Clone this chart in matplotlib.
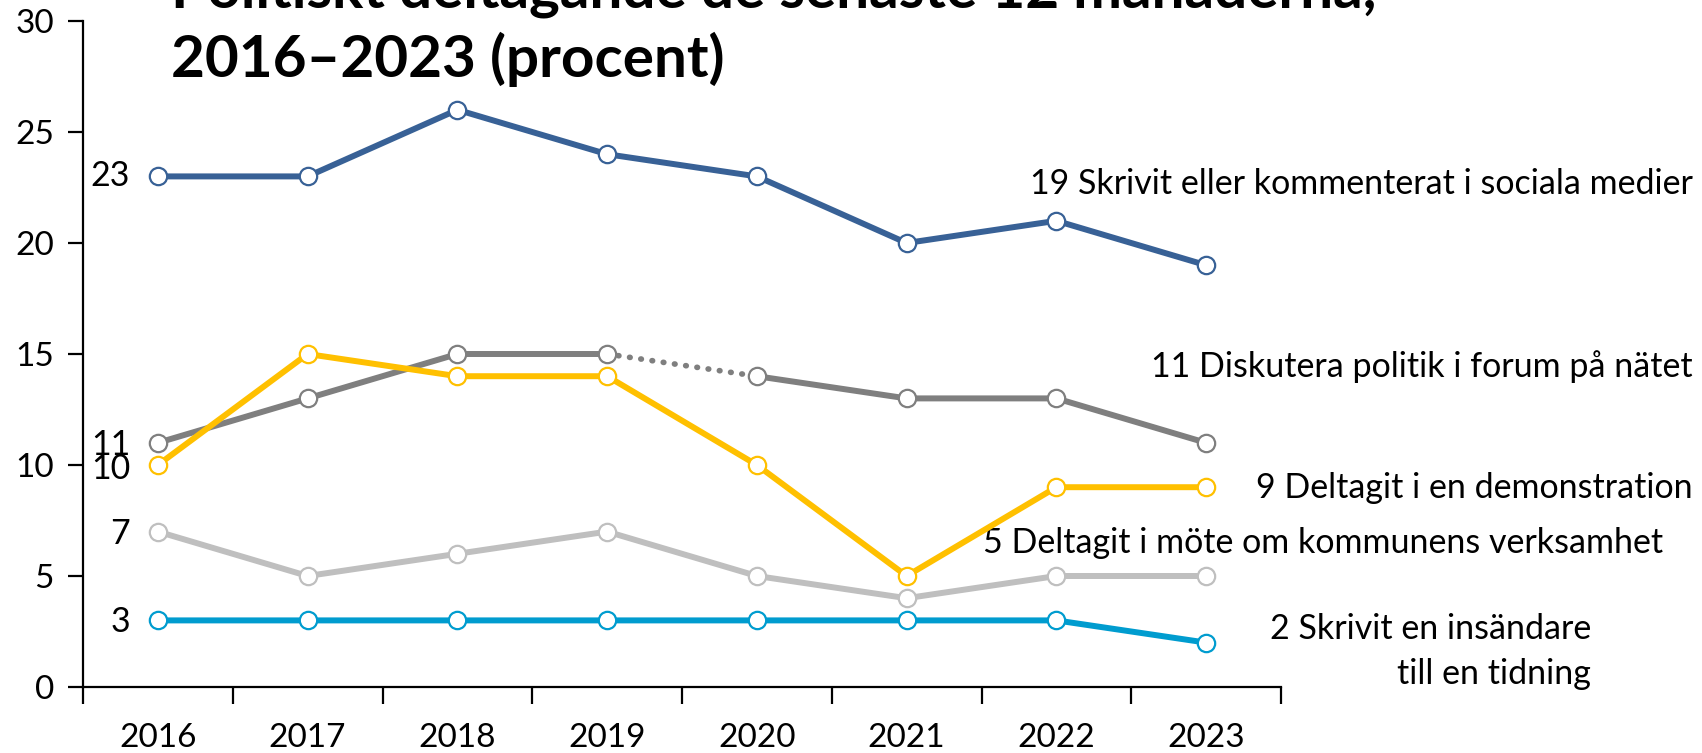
import matplotlib
matplotlib.use("Agg")
import matplotlib.pyplot as plt
import matplotlib.transforms as mtransforms
from matplotlib.ticker import FixedLocator, NullFormatter

plt.rcParams['font.family'] = ['Lato', 'DejaVu Sans']

years = ['2016', '2017', '2018', '2019', '2020', '2021', '2022', '2023']
sociala_medier = [23, 23, 26, 24, 23, 20, 21, 19]
forum_natet = [11, 13, 15, 15, 14, 13, 13, 11]
demonstration = [10, 15, 14, 14, 10, 5, 9, 9]
mote_kommun = [7, 5, 6, 7, 5, 4, 5, 5]
insandare = [3, 3, 3, 3, 3, 3, 3, 2]

label_sociala = '19 Skrivit eller kommenterat i sociala medier'
label_forum = '11 Diskutera politik i forum på nätet'
label_demo = '9 Deltagit i en demonstration'
label_mote = '5 Deltagit i möte om kommunens verksamhet'
label_ins = '2 Skrivit en insändare\ntill en tidning'
title_line1 = 'Politiskt deltagande de senaste 12 månaderna,'
title_line2 = '2016–2023 (procent)'

W, H = 1702, 753
fig = plt.figure(figsize=(W / 100, H / 100), dpi=100)
ax = fig.add_axes([83 / W, 1 - 687 / H, (1281 - 83) / W, (687 - 21) / H])

x = list(range(len(years)))
lw = 4.3
ms = 12.5
mew = 1.6
fs = 24.5
fs_tick = 24

def draw(vals, color, z, gap=None):
    if gap is None:
        ax.plot(x, vals, color=color, lw=lw, zorder=z)
    else:
        i = gap
        ax.plot(x[:i + 1], vals[:i + 1], color=color, lw=lw, zorder=z)
        ax.plot(x[i:i + 2], vals[i:i + 2], color=color, lw=lw * 0.95, ls=(0, (0.1, 1.9)),
                dash_capstyle='round', zorder=z)
        ax.plot(x[i + 1:], vals[i + 1:], color=color, lw=lw, zorder=z)
    ax.plot(x, vals, ls='none', marker='o', ms=ms, mfc='white', mec=color, mew=mew,
            zorder=z + 0.5)

c_blue = '#386196'
c_grey = '#7f7f7f'
c_yellow = '#ffc000'
c_lgrey = '#bfbfbf'
c_lblue = '#009ccf'

draw(mote_kommun, c_lgrey, 2)
draw(insandare, c_lblue, 3)
draw(forum_natet, c_grey, 4, gap=3)
draw(demonstration, c_yellow, 5)
draw(sociala_medier, c_blue, 6)

ax.set_xlim(-0.5, len(years) - 0.5)
ax.set_ylim(0, 30)
ax.set_yticks([0, 5, 10, 15, 20, 25, 30])
ax.set_xticks(x)
ax.set_xticklabels(years)
ax.xaxis.set_minor_locator(FixedLocator([i - 0.5 for i in range(len(years) + 1)]))
ax.xaxis.set_minor_formatter(NullFormatter())
ax.tick_params(axis='x', which='major', length=0, pad=26, labelsize=fs_tick)
ax.tick_params(axis='x', which='minor', length=12, width=1.6, direction='out')
ax.tick_params(axis='y', length=11, width=1.6, pad=10, labelsize=fs_tick)
for s in ['top', 'right']:
    ax.spines[s].set_visible(False)
ax.spines['left'].set_linewidth(1.6)
ax.spines['bottom'].set_linewidth(1.6)

# left value labels
tr = mtransforms.blended_transform_factory(fig.transFigure, ax.transData)
xl = 130 / W
ax.text(xl, sociala_medier[0], str(sociala_medier[0]), transform=tr, ha='right', va='center', fontsize=fs)
ax.text(xl, forum_natet[0] - 0.1, str(forum_natet[0]), transform=tr, ha='right', va='center', fontsize=fs)
ax.text(xl, demonstration[0] - 0.2, str(demonstration[0]), transform=tr, ha='right', va='center', fontsize=fs)
ax.text(xl, mote_kommun[0] - 0.1, str(mote_kommun[0]), transform=tr, ha='right', va='center', fontsize=fs)
ax.text(xl, insandare[0] - 0.05, str(insandare[0]), transform=tr, ha='right', va='center', fontsize=fs)

# right series labels
ax.text(1693 / W, 22.68, label_sociala, transform=tr, ha='right', va='center', fontsize=fs)
ax.text(1693 / W, 14.42, label_forum, transform=tr, ha='right', va='center', fontsize=fs)
ax.text(1693 / W, 8.95, label_demo, transform=tr, ha='right', va='center', fontsize=fs)
ax.text(1663 / W, 6.49, label_mote, transform=tr, ha='right', va='center', fontsize=fs)
ax.text(1591 / W, 1.6, label_ins, transform=tr, ha='right', va='center', fontsize=fs,
        multialignment='right', linespacing=1.5)

# title (first line partially above the canvas, as in the reference)
fig.text(171 / W, 1 - 8 / H, title_line1, ha='left', va='baseline', fontsize=42, fontweight='bold')
fig.text(171 / W, 1 - 77 / H, title_line2, ha='left', va='baseline', fontsize=42, fontweight='bold')

fig.savefig('out.png', dpi=100)
